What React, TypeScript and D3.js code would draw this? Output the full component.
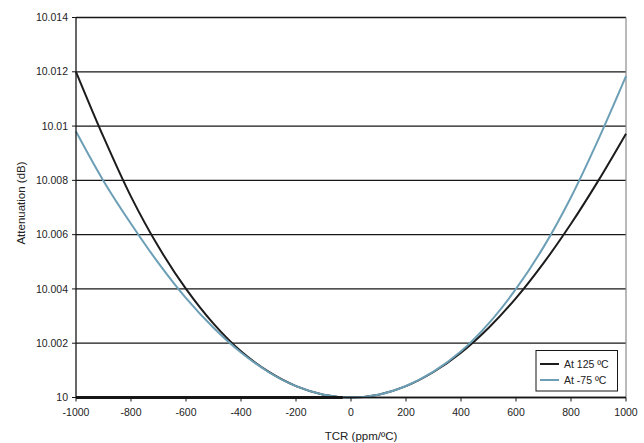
import React from "react";
import * as d3 from "d3";

const tcr = [-1000, -900, -800, -700, -600, -500, -400, -300, -200, -100, 0, 100, 200, 300, 400, 500, 600, 700, 800, 900, 1000];
const at125 = [10.012, 10.0096, 10.0074, 10.00555, 10.004, 10.00272, 10.0017, 10.00095, 10.00042, 10.000105, 10.0, 10.000105, 10.00042, 10.00094, 10.00165, 10.00256, 10.00366, 10.00495, 10.0064, 10.008, 10.00972];
const atM75 = [10.0098, 10.00798, 10.0064, 10.00495, 10.00366, 10.00257, 10.00166, 10.00094, 10.00042, 10.000105, 10.0, 10.000105, 10.000424, 10.00095, 10.0017, 10.00272, 10.004, 10.00554, 10.00738, 10.00952, 10.01184];
const yTicks = [10, 10.002, 10.004, 10.006, 10.008, 10.01, 10.012, 10.014];
const yTickLabels = ["10", "10.002", "10.004", "10.006", "10.008", "10.01", "10.012", "10.014"];
const xTicks = [-1000, -800, -600, -400, -200, 0, 200, 400, 600, 800, 1000];
const seriesNames = ["At 125 ºC", "At -75 ºC"];
const seriesColors = ["#1c1c1c", "#6c9fb6"];

export default function App() {
  const W = 644, H = 443;
  const x = d3.scaleLinear().domain([-1000, 1000]).range([76, 626]);
  const y = d3.scaleLinear().domain([10, 10.014]).range([397.5, 17.5]);
  const line = d3
    .line<number>()
    .x((_, i) => x(tcr[i]))
    .y((d) => y(d))
    .curve(d3.curveCatmullRom.alpha(0.5));
  const series = [at125, atM75];
  const font = "'Liberation Sans', Arial, sans-serif";
  const [x0, x1] = x.range();
  const yb = y(10);
  return (
    <svg width={W} height={H} style={{ position: "absolute", left: 0, top: 0, background: "#fff" }} fontFamily={font}>
      {yTicks.map((t) => (
        <line key={"g" + t} x1={x0} x2={x1} y1={y(t)} y2={y(t)} stroke="#161616" strokeWidth={1.3} />
      ))}
      <line x1={x1} x2={x1} y1={y(10.014)} y2={yb} stroke="#8a8a8a" strokeWidth={1.2} />
      {series.map((s, k) => (
        <path key={"s" + k} d={line(s) || ""} fill="none" stroke={seriesColors[k]} strokeWidth={2} />
      ))}
      <line x1={x0} x2={x0} y1={y(10.014)} y2={yb} stroke="#161616" strokeWidth={1.3} />
      <line x1={x0} x2={x1} y1={yb} y2={yb} stroke="#161616" strokeWidth={1.5} />
      <line x1={x0} x2={x(-30)} y1={yb} y2={yb} stroke="#161616" strokeWidth={3} />
      {yTicks.map((t, i) => (
        <g key={"yt" + t}>
          <line x1={x0 - 4} x2={x0} y1={y(t)} y2={y(t)} stroke="#161616" strokeWidth={1} />
          <text x={68} y={y(t)} dy="0.35em" textAnchor="end" fontSize={10.5} fill="#222">
            {yTickLabels[i]}
          </text>
        </g>
      ))}
      {xTicks.map((t) => (
        <g key={"xt" + t}>
          <line x1={x(t)} x2={x(t)} y1={yb} y2={yb + 4} stroke="#161616" strokeWidth={1} />
          <text x={x(t)} y={412.5} dy="0.35em" textAnchor="middle" fontSize={10.5} fill="#222">
            {t}
          </text>
        </g>
      ))}
      <text x={361} y={435.5} dy="0.35em" textAnchor="middle" fontSize={11.5} fill="#222">
        TCR (ppm/ºC)
      </text>
      <text transform={`translate(21,203) rotate(-90)`} dy="0.35em" textAnchor="middle" fontSize={11.5} fill="#222">
        Attenuation (dB)
      </text>
      <rect x={536} y={350.5} width={81.5} height={40.5} fill="#fff" stroke="#161616" strokeWidth={1} />
      {seriesNames.map((n, k) => (
        <g key={"lg" + k}>
          <line x1={540} x2={559} y1={364 + k * 16} y2={364 + k * 16} stroke={seriesColors[k]} strokeWidth={2} />
          <text x={564} y={364 + k * 16} dy="0.35em" fontSize={10.5} fill="#222">
            {n}
          </text>
        </g>
      ))}
    </svg>
  );
}
